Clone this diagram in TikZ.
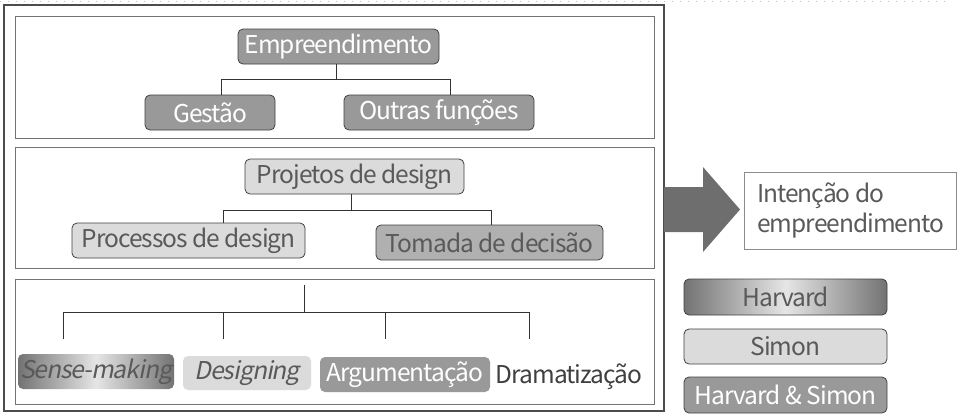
\documentclass[tikz,border=0pt]{standalone}
\usepackage{fontspec}
\setmainfont[LetterSpace=-4]{Noto Sans CJK KR}
\newfontfamily\slantfont[FakeSlant=0.2,LetterSpace=-4]{Noto Sans CJK KR}
\newcommand{\bigsz}{\fontsize{24.5}{28}\selectfont}
\begin{document}
\begin{tikzpicture}[x=1pt,y=-1pt,
  box/.style={rounded corners=5pt,draw=black!75,line width=0.8pt,inner sep=0pt,minimum height=35pt,font=\bigsz},
  darkbox/.style={box,fill=black!40,text=white},
  lightbox/.style={box,fill=black!14,text=black!65},
  midbox/.style={box,fill=black!31,text=black!65},
  gradbox/.style={box,left color=black!55,right color=black!55,middle color=black!10,text=black!65},
  conn/.style={draw=black!80,line width=0.7pt},
  panel/.style={draw=black!55,line width=1pt}]
\useasboundingbox (0,0) rectangle (957,415);
% dotted top line
\draw[black!25,line width=1pt,dash pattern=on 1pt off 7pt] (0,1) -- (950,1);
% outer frame and panels
\draw[black!70,line width=1.2pt] (4,5) rectangle (664,411);
\draw[panel] (15,16) rectangle (654,138);
\draw[panel] (15,147) rectangle (654,268);
\draw[panel] (15,279) rectangle (654,404);
% panel 1
\node[darkbox,minimum width=201pt] (emp) at (338.5,46.5) {Empreendimento};
\node[darkbox,minimum width=130pt] (gest) at (210,112.5) {Gestão};
\node[darkbox,minimum width=190pt] (outr) at (439,112.5) {Outras funções};
\draw[conn] ([xshift=-2.5pt]emp.south) -- ++(0,15) -| ([xshift=11pt]gest.north);
\draw[conn] ([xshift=-2.5pt]emp.south) -- ++(0,15) -| ([xshift=11pt]outr.north);
% panel 2
\node[lightbox,minimum width=219pt] (proj) at (354.5,176.5) {Projetos de design};
\node[lightbox,minimum width=233pt] (proc) at (188.5,240.5) {Processos de design};
\node[midbox,minimum width=227pt] (toma) at (489.5,242.5) {Tomada de decisão};
\draw[conn] ([xshift=-3.5pt]proj.south) -- ++(0,16) -| ([xshift=34.5pt]proc.north);
\draw[conn] ([xshift=-3.5pt]proj.south) -- ++(0,16) -| ([xshift=1.5pt]toma.north);
% panel 3
\coordinate (top3) at (304,285);
\coordinate (d1) at (63,339);
\coordinate (d2) at (223,339);
\coordinate (d3) at (385,339);
\coordinate (d4) at (529,339);
\draw[conn] (top3) -- (304,312);
\draw[conn] (d1) -- (63,312) -- (529,312) -- (d4);
\draw[conn] (d2) -- (223,312);
\draw[conn] (d3) -- (385,312);
\node[gradbox,draw=none,minimum width=156pt,font=\fontsize{24.5}{28}\slantfont] (sense) at (96,371.5) {Sense-making};
\node[lightbox,draw=none,minimum width=128pt,minimum height=34pt,font=\fontsize{24.5}{28}\slantfont] (desi) at (247,373) {Designing};
\node[darkbox,draw=none,minimum width=170pt] (argu) at (405,374.5) {Argumentação};
\node[font=\bigsz,text=black!75,inner sep=0pt] (dram) at (569,377) {Dramatização};
% arrow
\fill[black!57] (664,187) -- (703,187) -- (703,167) -- (740,209.5) -- (703,252) -- (703,232) -- (664,232) -- cycle;
% intention box
\draw[black!45,line width=0.8pt] (744,172) rectangle (956.5,249);
\node[anchor=north west,align=left,inner sep=0pt,text=black!65,font=\fontsize{24.5}{30}\selectfont] (inte) at (757,183) {Intenção do\\empreendimento};
% legend
\node[gradbox,minimum width=203pt,minimum height=36pt] (lh) at (785.5,297) {Harvard};
\node[lightbox,minimum width=203pt] (ls) at (785.5,346.5) {Simon};
\node[darkbox,minimum width=203pt,minimum height=36pt] (lhs) at (785.5,395) {Harvard \& Simon};
\end{tikzpicture}
\end{document}
